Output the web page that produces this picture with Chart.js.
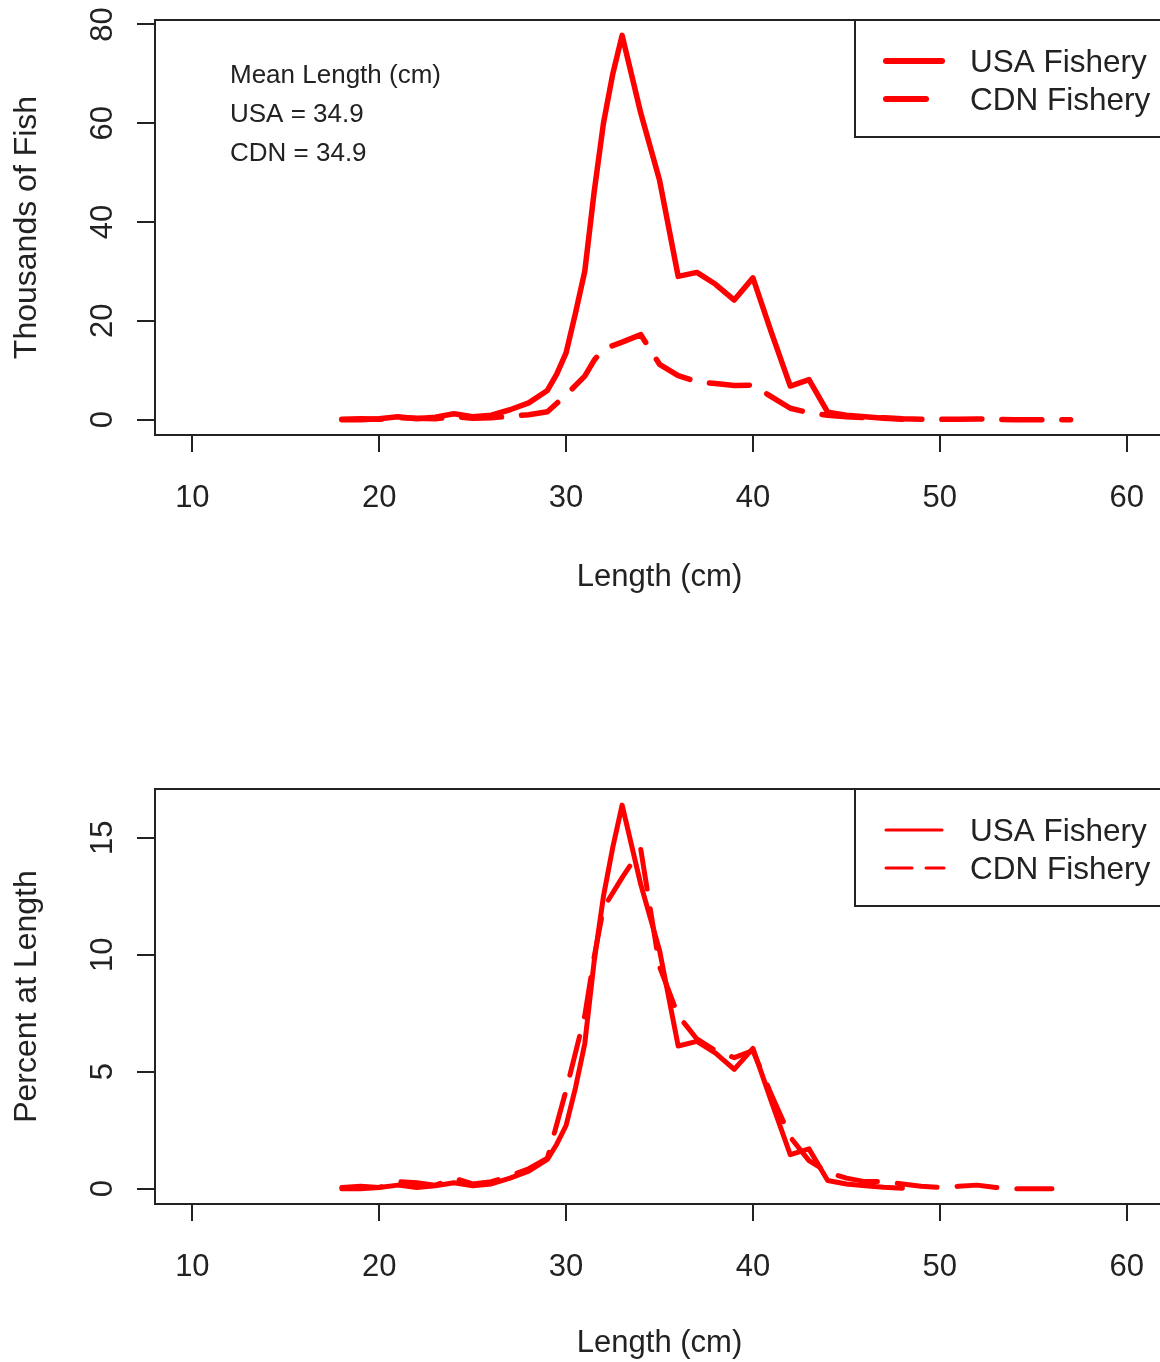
<!DOCTYPE html>
<html>
<head>
<meta charset="utf-8">
<title>Length frequency</title>
<script src="https://cdn.jsdelivr.net/npm/chart.js@4.4.1/dist/chart.umd.min.js"></script>
<style>
  html, body { margin: 0; padding: 0; background: #fff; overflow: hidden; width: 1160px; height: 1362px; }
  #frame { position: absolute; left: 0; top: 0; width: 1160px; height: 1362px; overflow: hidden; }
  canvas { position: absolute; left: 0; }
  #countChart { top: 0; }
  #percentChart { top: 681px; }
</style>
</head>
<body>
<div id="frame">
<canvas id="countChart" width="1166" height="596" style="width:1166px;height:596px"></canvas>
<canvas id="percentChart" width="1166" height="681" style="width:1166px;height:681px"></canvas>
</div>
<script>
const seriesNames = ["USA Fishery", "CDN Fishery"];
const meanLines = ["Mean Length (cm)", "USA = 34.9", "CDN = 34.9"];
const xTicks = [10, 20, 30, 40, 50, 60];
const countTicks = [0, 20, 40, 60, 80];
const percentTicks = [0, 5, 10, 15];

const usaLengths = [18, 19, 20, 21, 22, 23, 24, 25, 26, 27, 28, 29, 29.5, 30, 30.5, 31, 31.5, 32, 32.5, 33, 34, 35, 36, 37, 38, 39, 40, 41, 42, 43, 44, 45, 46, 47, 48];
const usaCounts = [0, 0, 0.2, 0.6, 0.2, 0.5, 1.2, 0.6, 0.9, 2.0, 3.4, 5.9, 9.2, 13.5, 21.5, 30, 46, 60, 70, 77.8, 62, 48.5, 29, 29.8, 27.4, 24.2, 28.7, 17.5, 6.8, 8.1, 1.5, 0.9, 0.6, 0.3, 0.1];
const usaPercents = [0, 0, 0.05, 0.15, 0.05, 0.12, 0.25, 0.12, 0.2, 0.45, 0.75, 1.25, 1.9, 2.7, 4.3, 6.2, 9.7, 12.5, 14.6, 16.4, 13.0, 10.2, 6.1, 6.3, 5.8, 5.1, 6.0, 3.7, 1.45, 1.7, 0.35, 0.2, 0.12, 0.06, 0.02];

const cdnCountLengths = [18, 19, 20, 21, 22, 23, 24, 25, 26, 27, 28, 29, 30, 31, 31.5, 32, 33, 34, 35, 36, 37, 38, 39, 40, 41, 42, 43, 44, 45, 46, 47, 48, 49, 50, 51, 52, 53, 54, 55, 56, 57];
const cdnCounts = [0.1, 0.2, 0.1, 0.4, 0.3, 0.2, 0.6, 0.3, 0.4, 0.7, 1.0, 1.6, 5.0, 8.8, 12.0, 14.3, 15.7, 17.2, 11.2, 8.9, 7.7, 7.3, 6.9, 7.0, 4.6, 2.3, 1.4, 0.9, 0.6, 0.4, 0.4, 0.2, 0.1, 0.05, 0.1, 0.15, 0.05, 0, 0, 0, 0];
const cdnPercentLengths = [18, 19, 20, 21, 22, 23, 24, 25, 26, 27, 28, 29, 30, 31, 31.5, 32, 33, 34, 35, 36, 37, 38, 39, 40, 41, 42, 43, 44, 45, 46, 47, 48, 49, 50, 51, 52, 53, 54, 55, 56];
const cdnPercents = [0.05, 0.1, 0.05, 0.3, 0.25, 0.15, 0.45, 0.2, 0.3, 0.55, 0.85, 1.3, 4.2, 7.4, 9.9, 12.0, 13.3, 14.5, 9.5, 7.4, 6.4, 5.9, 5.6, 5.9, 4.0, 2.2, 1.2, 0.7, 0.45, 0.3, 0.3, 0.2, 0.1, 0.05, 0.1, 0.15, 0.05, 0, 0, 0];

const FONT = "'Liberation Sans', Arial, sans-serif";
const INK = "#222";
const RED = "#ff0000";
const TEXT_SIZE = 31;

const toPoints = (xs, ys) => xs.map((x, i) => ({ x, y: ys[i] }));

const makeDatasets = (usa, cdn, width) => [
  {
    label: seriesNames[0],
    data: usa,
    borderColor: RED,
    borderWidth: width,
    borderCapStyle: "round",
    borderJoinStyle: "round",
    pointRadius: 0,
    tension: 0,
  },
  {
    label: seriesNames[1],
    data: cdn,
    borderColor: RED,
    borderWidth: width,
    borderDash: [40, 20],
    borderCapStyle: "round",
    borderJoinStyle: "round",
    pointRadius: 0,
    tension: 0,
  },
];

const rAxesPlugin = {
  id: "rAxes",
  afterDraw: (chart, args, opts) => {
    const { ctx, chartArea } = chart;
    const yScale = chart.scales.y;
    ctx.save();
    ctx.strokeStyle = INK;
    ctx.lineWidth = 2;
    ctx.strokeRect(chartArea.left, chartArea.top, chartArea.right - chartArea.left, chartArea.bottom - chartArea.top);

    ctx.fillStyle = INK;
    ctx.font = `${TEXT_SIZE}px ${FONT}`;
    ctx.textAlign = "center";
    ctx.textBaseline = "middle";
    opts.yTicks.forEach((value) => {
      const y = yScale.getPixelForValue(value);
      ctx.save();
      ctx.translate(103, y);
      ctx.rotate(-Math.PI / 2);
      ctx.fillText(String(value), 0, 0);
      ctx.restore();
    });

    const boxLeft = 855;
    const boxTop = chartArea.top;
    ctx.font = `31.5px ${FONT}`;
    ctx.fillStyle = "#fff";
    ctx.fillRect(boxLeft, boxTop, 330, 117);
    ctx.strokeRect(boxLeft, boxTop, 330, 117);
    chart.data.datasets.forEach((ds, i) => {
      const rowY = boxTop + 41 + i * 38;
      ctx.save();
      ctx.strokeStyle = ds.borderColor;
      ctx.lineWidth = opts.legendWidth;
      ctx.lineCap = "round";
      ctx.setLineDash(i === 0 ? [] : opts.legendDash);
      ctx.beginPath();
      ctx.moveTo(886, rowY);
      ctx.lineTo(i === 0 ? 942 : opts.legendEnd, rowY);
      ctx.stroke();
      ctx.restore();
      ctx.fillStyle = INK;
      ctx.textAlign = "left";
      ctx.fillText(ds.label, 970, rowY + 2);
    });

    if (opts.notes) {
      ctx.font = `26px ${FONT}`;
      ctx.textAlign = "left";
      opts.notes.forEach((line, i) => {
        ctx.fillText(line, 230, 76 + i * 39);
      });
    }
    ctx.restore();
  },
};

const makeConfig = ({ usa, cdn, lineWidth, yMin, yMax, yTicks, yTitle, top, axisHeight, notes, legendWidth, legendDash, legendEnd }) => ({
  type: "line",
  data: { datasets: makeDatasets(usa, cdn, lineWidth) },
  options: {
    responsive: false,
    devicePixelRatio: 1,
    animation: false,
    layout: { autoPadding: false, padding: { top: top, right: 2, left: 0, bottom: 0 } },
    plugins: {
      legend: { display: false },
      tooltip: { enabled: false },
      rAxes: { yTicks, notes, legendWidth, legendDash, legendEnd },
    },
    scales: {
      x: {
        type: "linear",
        min: 8,
        max: 62,
        afterBuildTicks: (scale) => {
          scale.ticks = xTicks.map((value) => ({ value }));
        },
        afterFit: (scale) => {
          scale.height = axisHeight;
          scale.paddingLeft = 0;
          scale.paddingRight = 0;
        },
        border: { display: false },
        grid: { drawOnChartArea: false, drawTicks: true, tickLength: 17, color: INK, lineWidth: 2 },
        ticks: { color: INK, font: { size: TEXT_SIZE, family: FONT }, padding: 28, maxRotation: 0, minRotation: 0 },
        title: {
          display: true,
          text: "Length (cm)",
          color: INK,
          font: { size: TEXT_SIZE, family: FONT },
          padding: { top: 0, bottom: 0 },
        },
      },
      y: {
        type: "linear",
        min: yMin,
        max: yMax,
        afterBuildTicks: (scale) => {
          scale.ticks = yTicks.map((value) => ({ value }));
        },
        afterFit: (scale) => {
          scale.width = 155;
        },
        border: { display: false },
        grid: { drawOnChartArea: false, drawTicks: true, tickLength: 18, color: INK, lineWidth: 2 },
        ticks: { display: false },
        title: {
          display: true,
          text: yTitle,
          color: INK,
          font: { size: 32, family: FONT },
          padding: { top: 8, bottom: 0 },
        },
      },
    },
  },
  plugins: [rAxesPlugin],
});

new Chart(
  document.getElementById("countChart"),
  makeConfig({
    usa: toPoints(usaLengths, usaCounts),
    cdn: toPoints(cdnCountLengths, cdnCounts),
    lineWidth: 5.5,
    yMin: -3.11,
    yMax: 80.9,
    yTicks: countTicks,
    yTitle: "Thousands of Fish",
    top: 20,
    axisHeight: 161,
    notes: meanLines,
    legendWidth: 6,
    legendDash: [40, 20],
    legendEnd: 926,
  })
);

new Chart(
  document.getElementById("percentChart"),
  makeConfig({
    usa: toPoints(usaLengths, usaPercents),
    cdn: toPoints(cdnPercentLengths, cdnPercents),
    lineWidth: 5,
    yMin: -0.657,
    yMax: 17.09,
    yTicks: percentTicks,
    yTitle: "Percent at Length",
    top: 108,
    axisHeight: 158,
    notes: null,
    legendWidth: 3,
    legendDash: [26, 14],
    legendEnd: 944,
  })
);
</script>
</body>
</html>
